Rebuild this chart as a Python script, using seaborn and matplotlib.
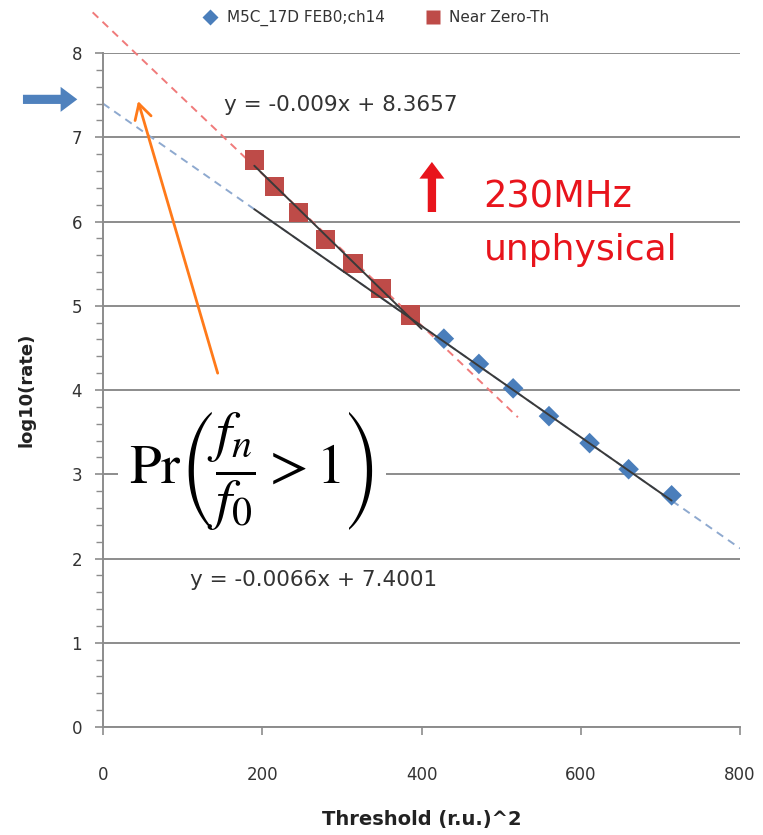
import numpy as np
import pandas as pd
import matplotlib
matplotlib.use("Agg")
import matplotlib.pyplot as plt
import seaborn as sns
from matplotlib.lines import Line2D

# ---- data ----
blue_x = [428, 472, 515, 560, 611, 660, 714]
blue_y = [4.61, 4.31, 4.02, 3.69, 3.37, 3.06, 2.75]
red_x = [190, 215, 246, 279, 314, 349, 386]
red_y = [6.73, 6.42, 6.11, 5.79, 5.50, 5.21, 4.89]

blue_fit = [-0.0066, 7.4001]   # slope, intercept
red_fit = [-0.009, 8.3657]
blue_fit_range = [0, 800]
red_fit_range = [-13, 521]
solid_blue_range = [190, 714]
solid_red_range = [190, 400]

x_ticks = [0, 200, 400, 600, 800]
y_ticks = [0, 1, 2, 3, 4, 5, 6, 7, 8]

series_names = ["M5C_17D FEB0;ch14", "Near Zero-Th"]
eq_blue = "y = -0.0066x + 7.4001"
eq_red = "y = -0.009x + 8.3657"

sns.set_theme(style="white")
plt.rcParams['font.family'] = ['DejaVu Sans']
plt.rcParams['mathtext.fontset'] = 'stix'

fig = plt.figure(figsize=(7.63, 8.35), dpi=100)
ax = fig.add_axes([0.135, 0.1293, 0.835, 0.8072])

BLUE = "#4a7ebb"
RED = "#be4b48"

ax.set_xlim(0, 800)
ax.set_ylim(0, 8)
ax.set_yticks(y_ticks)
ax.set_xticks(x_ticks)
ax.set_yticks(np.arange(0, 8.01, 0.2), minor=True)
ax.yaxis.grid(True, which="major", color="#8c8c8c", linewidth=1.4, zorder=0)
ax.xaxis.grid(False)
ax.set_axisbelow(True)

for s in ["top", "right"]:
    ax.spines[s].set_visible(False)
for s in ["left", "bottom"]:
    ax.spines[s].set_color("#8c8c8c")
    ax.spines[s].set_linewidth(1.4)

ax.tick_params(axis="y", which="major", direction="out", length=6, width=1.2,
               color="#8c8c8c", labelsize=12, labelcolor="#333333", pad=9, left=True)
ax.tick_params(axis="y", which="minor", direction="out", length=5, width=1.0,
               color="#8c8c8c", left=True)
ax.tick_params(axis="x", which="major", direction="out", length=6, width=1.2,
               color="#8c8c8c", labelsize=12, labelcolor="#333333", pad=22, bottom=True)

# dashed trend lines
bx = np.array(blue_fit_range, dtype=float)
ax.plot(bx, np.polyval(blue_fit, bx), ls=(0, (4, 3)), color="#8ea9cf", lw=1.4, zorder=2)
rx = np.array(red_fit_range, dtype=float)
ax.plot(rx, np.polyval(red_fit, rx), ls=(0, (4, 3)), color="#f07a7a", lw=1.4, zorder=2,
        clip_on=False)

# solid fit lines
rfit = np.polyfit(red_x, red_y, 1)
srx = np.array(solid_red_range, dtype=float)
ax.plot(srx, np.polyval(rfit, srx), color="#3a3a3a", lw=1.4, zorder=4)
sbx = np.array(solid_blue_range, dtype=float)
ax.plot(sbx, np.polyval(blue_fit, sbx), color="#3a3a3a", lw=1.4, zorder=4)

# markers
sns.scatterplot(x=red_x, y=red_y, marker="s", s=190, color=RED, edgecolor="none",
                ax=ax, zorder=3)
sns.scatterplot(x=blue_x, y=blue_y, marker="D", s=110, color=BLUE, edgecolor="none",
                ax=ax, zorder=3)

ax.set_xlabel("Threshold (r.u.)^2", fontsize=14, fontweight="bold", color="#222222",
              labelpad=19)
ax.set_ylabel("log10(rate)", fontsize=13, fontweight="bold", color="#222222",
              labelpad=26)

# equations
ax.text(299, 7.38, eq_red, ha="center", va="center", fontsize=15.5, color="#333333")
ax.text(264, 1.745, eq_blue, ha="center", va="center", fontsize=15.5, color="#333333")

# formula box
ax.text(187, 3.05, r"$\mathrm{Pr}\left(\dfrac{f_n}{f_0}>1\right)$", ha="center",
        va="center", fontsize=41, color="black", zorder=6,
        bbox=dict(facecolor="white", edgecolor="none", pad=8))

# red annotation
ax.text(478, 6.29, "230MHz", ha="left", va="center", fontsize=26.5, color="#e8141c")
ax.text(478, 5.66, "unphysical", ha="left", va="center", fontsize=26, color="#e8141c")
ax.annotate("", xy=(413, 6.74), xytext=(413, 6.08),
            arrowprops=dict(arrowstyle="simple,head_length=1.0,head_width=1.5,tail_width=0.5",
                            color="#e8141c", lw=0))

# orange arrow
ax.annotate("", xy=(44, 7.43), xytext=(144, 4.2),
            arrowprops=dict(arrowstyle="->,head_length=0.9,head_width=0.5", color="#ff7a1a",
                            lw=2.0, shrinkA=0, shrinkB=0), zorder=7)

# blue arrow outside the axes
ax.annotate("", xy=(-0.036, 7.45), xytext=(-0.13, 7.45),
            xycoords=("axes fraction", "data"), textcoords=("axes fraction", "data"),
            arrowprops=dict(arrowstyle="simple,head_length=1.0,head_width=1.5,tail_width=0.55",
                            color="#4f81bd", lw=0), annotation_clip=False)

# legend
handles = [Line2D([], [], marker="D", ls="none", color=BLUE, markersize=8, markeredgecolor="none"),
           Line2D([], [], marker="s", ls="none", color=RED, markersize=10, markeredgecolor="none")]
fig.legend(handles, series_names, loc="center", bbox_to_anchor=(0.488, 0.978), ncol=2,
           frameon=False, fontsize=11, handletextpad=0.05, columnspacing=2.2,
           labelcolor="#333333")

fig.savefig("out.png", dpi=100)
